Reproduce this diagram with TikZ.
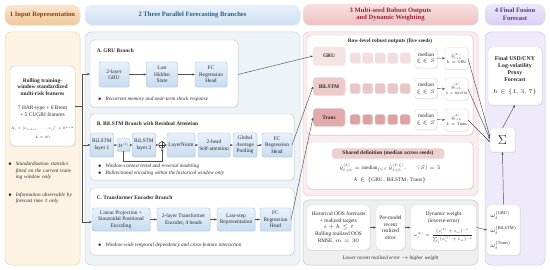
\RequirePackage{fix-cm}
\documentclass[tikz,border=0pt]{standalone}
\usepackage{amsmath,amssymb}
\usepackage{fontspec}
\setmainfont{Liberation Serif}
\usetikzlibrary{arrows.meta,shadows,calc}
\definecolor{txt}{HTML}{2B2B2B}
\definecolor{arrc}{HTML}{505050}
\definecolor{hAt}{HTML}{FAE6CD}\definecolor{hAb}{HTML}{F0C79C}\definecolor{hAx}{HTML}{8A3B12}
\definecolor{hBt}{HTML}{E8F1FA}\definecolor{hBb}{HTML}{CFE1F2}\definecolor{hBx}{HTML}{1F5F8B}
\definecolor{hCt}{HTML}{F8E0E0}\definecolor{hCb}{HTML}{ECC2C2}\definecolor{hCx}{HTML}{9B2335}
\definecolor{hDt}{HTML}{EEE8FA}\definecolor{hDb}{HTML}{DACFF3}\definecolor{hDx}{HTML}{4B3A8C}
\definecolor{pA}{HTML}{FDF3E2}\definecolor{pAd}{HTML}{EAD8BA}
\definecolor{pB}{HTML}{EEF3F8}\definecolor{pBd}{HTML}{CBD7E3}
\definecolor{pC}{HTML}{FBEDED}\definecolor{pCd}{HTML}{EAC8C8}
\definecolor{pG}{HTML}{EFEFEF}\definecolor{pGd}{HTML}{C6C6C6}
\definecolor{pD}{HTML}{EFEAFA}\definecolor{pDd}{HTML}{D2C8EE}
\definecolor{blkt}{HTML}{E8F1FB}\definecolor{blkb}{HTML}{C8DCF0}\definecolor{blkd}{HTML}{A8C2DC}
\definecolor{rA}{HTML}{F6E3E3}\definecolor{rB}{HTML}{EECBCB}\definecolor{rC}{HTML}{E2AAAA}
\definecolor{sA}{HTML}{F3DEDE}\definecolor{sB}{HTML}{EBC6C6}\definecolor{sC}{HTML}{DEA2A2}
\definecolor{hl}{HTML}{EFCFCF}
\tikzset{
  base/.style={font=\fontsize{5.4}{6.6}\selectfont, text=txt, align=center, inner sep=0.8pt, outer sep=0pt},
  shd/.style={drop shadow={opacity=0.18, shadow xshift=0.6pt, shadow yshift=-0.7pt}},
  hdr/.style={base, font=\fontsize{6.6}{7.6}\selectfont\bfseries, rounded corners=7pt, shd, anchor=north west},
  panel/.style={rounded corners=6pt, line width=0.5pt, anchor=north west, inner sep=0pt, outer sep=0pt},
  wbox/.style={base, rounded corners=4pt, draw=black!22, fill=white, shd, anchor=north west, line width=0.4pt},
  blk/.style={base, rounded corners=2pt, draw=blkd, top color=blkt, bottom color=blkb, shd, line width=0.4pt},
  pbox/.style={base, rounded corners=2.5pt, draw=black!15, fill=white, shd, line width=0.4pt},
  arr/.style={-{Stealth[length=2.8pt,width=2.2pt]}, draw=arrc, line width=0.45pt},
  ln/.style={draw=arrc, line width=0.45pt},
  ttl/.style={base, font=\fontsize{5.4}{6.6}\selectfont\bfseries, anchor=west},
  bul/.style={base, font=\fontsize{5.2}{6.4}\selectfont\itshape, anchor=west, align=left},
  sq/.style={rounded corners=1.5pt, draw=black!10, minimum width=10pt, minimum height=10pt, inner sep=0pt, shd},
}
\begin{document}
\begin{tikzpicture}[x=1pt,y=-1pt]
\useasboundingbox (0,0) rectangle (550,270);
\fill[white] (0,0) rectangle (550,270);
% headers
\node[hdr, top color=hAt, bottom color=hAb, text=hAx, minimum width=75pt, minimum height=20pt] (h1) at (5,5) {1 Input Representation};
\node[hdr, top color=hBt, bottom color=hBb, text=hBx, minimum width=215pt, minimum height=20pt] (h2) at (85,5) {2 Three Parallel Forecasting Branches};
\node[hdr, top color=hCt, bottom color=hCb, text=hCx, minimum width=175pt, minimum height=21pt] (h3) at (303,4) {3 Multi-seed Robust Outputs\\and Dynamic Weighting};
\node[hdr, top color=hDt, bottom color=hDb, text=hDx, minimum width=60pt, minimum height=21pt] (h4) at (485,4) {4 Final Fusion\\Forecast};
% panels
\node[panel, fill=pA, draw=pAd, minimum width=75pt, minimum height=233pt] (p1) at (5,32) {};
\node[panel, fill=pB, draw=pBd, minimum width=215pt, minimum height=233pt] (p2) at (85,32) {};
\node[panel, fill=pC, draw=pCd, minimum width=175pt, minimum height=164pt] (p3) at (303,32) {};
\node[panel, fill=pG, draw=pGd, minimum width=175pt, minimum height=65pt] (pg) at (303,200) {};
\node[panel, fill=pD, draw=pDd, minimum width=60pt, minimum height=233pt] (p4) at (485,32) {};
% panel 1
\node[wbox, minimum width=65pt, minimum height=80pt] (inbox) at (10,66) {};
\node[base, font=\fontsize{5.5}{6.8}\selectfont\bfseries] (intitle) at (42.5,87) {Rolling training-\\window standardized\\multi-risk features};
\node[base, font=\fontsize{5.5}{6.8}\selectfont] (infeat) at (42.5,111) {7 HAR-type + 6 Brent\\+ 5 CUGRI features};
\node[base, font=\fontsize{3.3}{4.5}\selectfont] (inform) at (42.5,128.5) {$X_t=[x_{t-L+1},\ldots,x_t]^{\top}\in\mathbb{R}^{L\times 18}$};
\node[base, font=\fontsize{3.5}{4.5}\selectfont] (inL) at (42.5,137) {$L=60$};
\node[base] (bu1) at (10,164) {$\bullet$};
\node[bul, text width=58pt] (bt1) at (15,171) {Standardization statistics fitted on the current training window only};
\node[base] (bu2) at (10,195) {$\bullet$};
\node[bul, text width=58pt] (bt2) at (15,198.5) {Information observable by forecast time $t$ only};
% panel 2 : A
\node[wbox, minimum width=148pt, minimum height=67pt] (boxA) at (90,40) {};
\node[ttl] (tA) at (96,51) {A. GRU Branch};
\node[blk, minimum width=30pt, minimum height=25pt] (a1) at (114,74.5) {2-layer\\GRU};
\node[blk, minimum width=31pt, minimum height=25pt] (a2) at (162,74.5) {Last\\Hidden\\State};
\node[blk, minimum width=32pt, minimum height=25pt] (a3) at (211,74.5) {FC\\Regression\\Head};
\draw[arr] (a1) -- (a2);
\draw[arr] (a2) -- (a3);
\node[bul] (bA) at (97,99.5) {$\bullet$\hspace{4pt}Recurrent memory and near-term shock response};
% B
\node[wbox, minimum width=204pt, minimum height=66pt] (boxB) at (90,114) {};
\node[ttl] (tB) at (96,124) {B. BiLSTM Branch with Residual Attention};
\node[blk, minimum width=23pt, minimum height=24pt] (b1) at (102,145) {BiLSTM\\layer 1};
\node[blk, minimum width=12pt, minimum height=13pt, font=\fontsize{4.5}{5}\selectfont] (bh) at (123.5,145) {$H^{(1)}$};
\node[blk, minimum width=23pt, minimum height=24pt] (b2) at (144,145) {BiLSTM\\layer 2};
\node[circle, draw=black!80, line width=0.5pt, minimum size=6.5pt, inner sep=0pt, fill=white] (plus) at (162,145) {};
\draw[black!80, line width=0.5pt] (plus.north) -- (plus.south) (plus.west) -- (plus.east);
\node[blk, minimum width=28pt, minimum height=24pt] (b3) at (181,145) {LayerNorm};
\node[blk, minimum width=32pt, minimum height=24pt] (b4) at (214,145) {2-head\\Self-attention};
\node[blk, minimum width=24pt, minimum height=24pt] (b5) at (245,145) {Global\\Average\\Pooling};
\node[blk, minimum width=30pt, minimum height=24pt] (b6) at (277,145) {FC\\Regression\\Head};
\draw[arr] (b1) -- (bh);
\draw[arr] (bh) -- (b2);
\draw[arr] (b2) -- (plus);
\draw[arr] (plus) -- (b3);
\draw[arr] (b3) -- (b4);
\draw[arr] (b4) -- (b5);
\draw[arr] (b5) -- (b6);
\coordinate (rr) at (162,161);
\draw[arr] (bh.south) |- (rr) -- (plus.south);
\node[bul] (bB1) at (97,166.5) {$\bullet$\hspace{4pt}Window-context trend and reversal modeling};
\node[bul] (bB2) at (97,173.5) {$\bullet$\hspace{4pt}Bidirectional encoding within the historical window only};
% C
\node[wbox, minimum width=204pt, minimum height=67pt] (boxC) at (90,188) {};
\node[ttl] (tC) at (96,197.5) {C. Transformer Encoder Branch};
\node[blk, minimum width=58pt, minimum height=23pt] (c1) at (121,219.5) {Linear Projection +\\Sinusoidal Positional\\Encoding};
\node[blk, minimum width=53pt, minimum height=23pt] (c2) at (183.5,219.5) {2-layer Transformer\\Encoder, 4 heads};
\node[blk, minimum width=38pt, minimum height=23pt] (c3) at (236,219.5) {Last-step\\Representation};
\node[blk, minimum width=31pt, minimum height=23pt] (c4) at (275.5,219.5) {FC\\Regression\\Head};
\draw[arr] (c1) -- (c2);
\draw[arr] (c2) -- (c3);
\draw[arr] (c3) -- (c4);
\node[bul] (bC) at (97,245) {$\bullet$\hspace{4pt}Window-wide temporal dependency and cross-feature interaction};
% input connectors
\coordinate (tr) at (82,106);
\coordinate (trA) at (82,74);
\coordinate (trC) at (82,222);
\draw[ln] (inbox.east |- tr) -- (tr);
\draw[ln] (trA) -- (trC);
\draw[arr] (trA) -- (boxA.west |- trA);
\draw[arr] (82,145) -- (b1.west);
\draw[arr] (trC) -- (c1.west |- trC);
% panel 3
\node[wbox, minimum width=166pt, minimum height=100pt] (rowbox) at (307,35) {};
\node[base, font=\fontsize{5.4}{6.6}\selectfont\bfseries] (rowt) at (390,41.5) {Row-level robust outputs (five seeds)};
\foreach \n/\lab/\yy/\rc/\sc in {g/GRU/56/rA/sA, l/BiLSTM/86.5/rB/sB, t/Trans/117.5/rC/sC}{
  \node[base, font=\fontsize{5.4}{6.6}\selectfont\bfseries, rounded corners=3pt, fill=\rc, draw=black!8, shd, minimum width=32pt, minimum height=18pt] (r\n) at (329,\yy) {\lab};
  \foreach \i/\xx in {1/355,2/367.5,3/380,4/392.5,5/405}{
    \node[sq, fill=\sc] (s\n\i) at (\xx,\yy+2) {};
  }
  \node[pbox, minimum width=22pt, minimum height=20pt] (m\n) at (426,\yy+2) {median\\$\xi\in S$};
}
\node[pbox, minimum width=23pt, minimum height=22pt, font=\fontsize{4.2}{6}\selectfont] (yg) at (456.5,58.5) {$\hat{y}^{(k)}_{t+h}$\\$k=\mathrm{GRU}$};
\node[pbox, minimum width=23pt, minimum height=22pt, font=\fontsize{4.2}{6}\selectfont] (yl) at (456.5,89) {$\hat{y}^{(k)}_{t+h}$\\{\fontsize{3.4}{4}\selectfont$k=\mathrm{BiLSTM}$}};
\node[pbox, minimum width=23pt, minimum height=22pt, font=\fontsize{4.2}{6}\selectfont] (yt) at (456.5,120) {$\hat{y}^{(k)}_{t+h}$\\$k=\mathrm{Trans}$};
\draw[arr] (mg) -- (yg);
\draw[arr] (ml) -- (yl);
\draw[arr] (mt) -- (yt);
\node[wbox, minimum width=166pt, minimum height=47pt] (shbox) at (307,142) {};
\node[base, font=\fontsize{5.4}{6.6}\selectfont\bfseries, fill=hl, rounded corners=3pt, minimum width=112pt, minimum height=10pt, shd] (shtitle) at (388,153.5) {Shared definition (median across seeds)};
\node[base, font=\fontsize{5.2}{6.6}\selectfont] (shf) at (390,168) {$\hat{y}^{(k)}_{t+h}=\mathrm{median}_{\xi\in S}\,\hat{y}^{(k,\xi)}_{t+h},\qquad |S|=5$};
\node[base, font=\fontsize{5.4}{6.6}\selectfont] (shk) at (390,180.5) {$k\in\{\mathrm{GRU},\mathrm{BiLSTM},\mathrm{Trans}\}$};
% gray panel
\node[pbox, rounded corners=4pt, minimum width=63pt, minimum height=45pt] (g1) at (338.5,227.5) {Historical OOS forecasts\\+ realized targets\\$s+h\le t$\\Rolling realized OOS\\RMSE, $m=30$};
\node[pbox, rounded corners=4pt, minimum width=29pt, minimum height=45pt] (g2) at (390.5,227.5) {Per-model\\recent\\realized\\error};
\node[pbox, rounded corners=4pt, minimum width=66pt, minimum height=45pt] (g3) at (443.5,227.5) {Dynamic weight\\(inverse-error)\\[4pt]{\fontsize{4.2}{5}\selectfont$\omega_t^{(k)}=\dfrac{(e_t^{(k)}+\varepsilon_w)^{-1}}{\sum_j (e_t^{(j)}+\varepsilon_w)^{-1}}$}};
\draw[arr] (g1) -- (g2);
\draw[arr] (g2) -- (g3);
\node[base, font=\fontsize{5.2}{6.4}\selectfont\itshape] (gl) at (390.5,258) {Lower recent realized error $\rightarrow$ higher weight};
% panel 4
\node[pbox, rounded corners=4pt, minimum width=54pt, minimum height=58pt, font=\fontsize{5.8}{7}\selectfont\bfseries] (final) at (515,76) {Final USD/CNY\\Log-volatility\\Proxy\\Forecast\\[5pt]\mdseries$h\in\{1,3,7\}$};
\node[pbox, rounded corners=2pt, minimum width=25pt, minimum height=24pt, font=\fontsize{13}{14}\selectfont] (sig) at (502.5,140) {$\Sigma$};
\node[pbox, rounded corners=3pt, minimum width=33pt, minimum height=50pt, font=\fontsize{6.3}{15}\selectfont, align=left] (wb) at (503.5,230) {$\omega_t^{(\mathrm{GRU})}$\\$\omega_t^{(\mathrm{BiLSTM})}$\\$\omega_t^{(\mathrm{Trans})}$};
% connectors across
\draw[arr] (boxA.east |- a3) -- (rg.west);
\draw[arr] (b6.east) -- (rl.west);
\draw[arr] (c4.east) -- (rt.west);
\draw[arr] (yg.east) -- ($(sig.west)+(0,-3)$);
\draw[arr] (yl.east) -- ($(sig.west)+(0,-1)$);
\draw[arr] (yt.east) -- ($(sig.west)+(0,2)$);
\draw[arr] (sig.north) -- (final.south);
\draw[arr] (wb.north) -- (sig.south);
\draw[arr] (g3.east) -- (wb.west);
\end{tikzpicture}
\end{document}
